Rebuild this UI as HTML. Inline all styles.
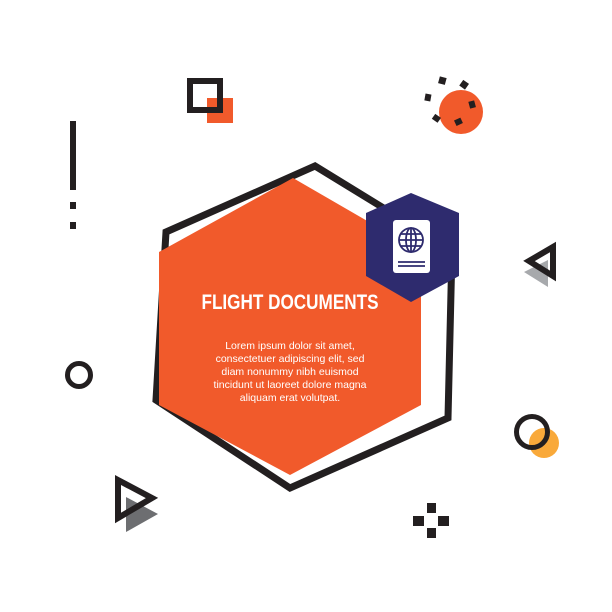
<!DOCTYPE html>
<html><head><style>
html,body{margin:0;padding:0;background:#fff;}
svg{display:block}
</style></head><body>
<svg width="612" height="612" viewBox="0 0 612 612" xmlns="http://www.w3.org/2000/svg">
<rect width="612" height="612" fill="#fff"/>
<!-- black hex outline -->
<polygon points="315,166 166,232 156,400 290,488 448,418 452,250" fill="none" stroke="#231f20" stroke-width="7" stroke-linejoin="miter"/>
<!-- orange hex -->
<polygon points="293,178 159,252 159,405 290,475 421,405 421,252" fill="#f15a2b"/>
<!-- navy hex -->
<polygon points="411,193 459,213 459,276 411,302 366,276 366,213" fill="#2e2b6e"/>
<rect x="393" y="220" width="37" height="53" rx="3" fill="#fff"/>
<g fill="none" stroke="#2e2b6e" stroke-width="1.8">
<circle cx="411" cy="240" r="12"/>
<ellipse cx="411" cy="240" rx="5" ry="12"/>
<line x1="399" y1="240" x2="423" y2="240"/>
<line x1="401" y1="234" x2="421" y2="234"/>
<line x1="401" y1="246" x2="421" y2="246"/>
<line x1="411" y1="228" x2="411" y2="252"/>
<line x1="398" y1="262" x2="425" y2="262"/>
<line x1="398" y1="266" x2="425" y2="266"/>
</g>
<text x="290" y="309" text-anchor="middle" fill="#fff" font-family="Liberation Sans Narrow, Liberation Sans, sans-serif" font-weight="bold" font-size="21" textLength="177" lengthAdjust="spacingAndGlyphs">FLIGHT DOCUMENTS</text>
<g font-family="Liberation Sans, sans-serif" font-size="10.5" fill="#fff" text-anchor="middle">
<text x="290" y="349">Lorem ipsum dolor sit amet,</text>
<text x="290" y="362">consectetuer adipiscing elit, sed</text>
<text x="290" y="375">diam nonummy nibh euismod</text>
<text x="290" y="388">tincidunt ut laoreet dolore magna</text>
<text x="290" y="401">aliquam erat volutpat.</text>
</g>
<!-- top-left squares -->
<rect x="207" y="98" width="26" height="25" fill="#f15a2b"/>
<rect x="190" y="81" width="30" height="29" fill="none" stroke="#231f20" stroke-width="6"/>
<!-- exclamation -->
<rect x="70" y="121" width="6" height="69" fill="#231f20"/>
<rect x="70" y="202" width="6" height="7" fill="#231f20"/>
<rect x="70" y="222" width="6" height="7" fill="#231f20"/>
<!-- left circle -->
<circle cx="79" cy="375" r="11.5" fill="none" stroke="#231f20" stroke-width="5"/>
<!-- bottom-left triangles -->
<polygon points="126,497 158,514 126,532" fill="#6d6e71"/>
<polygon points="118,480 152,498 118,518" fill="none" stroke="#231f20" stroke-width="6"/>
<!-- orange circle + dashes -->
<circle cx="461" cy="112" r="22" fill="#f15a2b"/>
<g fill="#231f20">
<rect x="439" y="77" width="7" height="7" transform="rotate(15 442 80)"/>
<rect x="461" y="81" width="7" height="7" transform="rotate(35 464 84)"/>
<rect x="425" y="94" width="6" height="7" transform="rotate(10 428 97)"/>
<rect x="433" y="115" width="7" height="6" transform="rotate(35 436 118)"/>
<rect x="455" y="119" width="7" height="6" transform="rotate(-25 458 122)"/>
<rect x="469" y="101" width="6" height="7" transform="rotate(-15 472 104)"/>
</g>
<!-- right triangles -->
<polygon points="524,272 548,260 548,287" fill="#a7a9ac"/>
<polygon points="553,247 529,261 553,276" fill="none" stroke="#231f20" stroke-width="6"/>
<!-- right circles -->
<circle cx="544" cy="443" r="15" fill="#f9a93a"/>
<circle cx="532" cy="432" r="15.5" fill="none" stroke="#231f20" stroke-width="5"/>
<!-- cross -->
<g fill="#231f20">
<rect x="427" y="503" width="9" height="10"/>
<rect x="413" y="516" width="11" height="10"/>
<rect x="438" y="516" width="11" height="10"/>
<rect x="427" y="528" width="9" height="10"/>
</g>
</svg>
</body></html>
